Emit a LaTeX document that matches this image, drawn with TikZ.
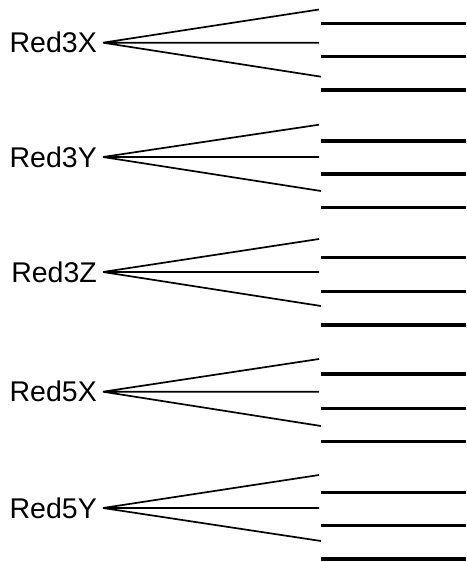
\documentclass[tikz,border=0pt]{standalone}
\usepackage{fontspec}
\setmainfont{Liberation Sans}
\usetikzlibrary{positioning}
\tikzset{
lbl/.style={inner sep=0pt, font=\fontsize{28.5}{34}\selectfont},
fan/.style={line width=1.7pt},
bar/.style={line width=3.4pt},
}

\begin{document}
\begin{tikzpicture}[x=1pt, y=-1pt]
    \useasboundingbox (0,0) rectangle (466,562);
    % Red3X
    \coordinate (ax) at (103,42.7);
    \node[lbl, left=6pt of ax] (red3x) {Red3X};
    \coordinate (ax1) at (319,9.5);
    \coordinate (ax2) at (319,42.7);
    \coordinate (ax3) at (321,76.7);
    \draw[fan] (ax) -- (ax1) (ax) -- (ax2) (ax) -- (ax3);
    \draw[bar] (321,23.3) -- (466,23.3) (321,56.7) -- (466,56.7) (321,90) -- (466,90);
    % Red3Y
    \coordinate (ay) at (103,157);
    \node[lbl, left=6pt of ay] (red3y) {Red3Y};
    \coordinate (ay1) at (319,124.7);
    \coordinate (ay2) at (319,157);
    \coordinate (ay3) at (321,191);
    \draw[fan] (ay) -- (ay1) (ay) -- (ay2) (ay) -- (ay3);
    \draw[bar] (321,141) -- (466,141) (321,174) -- (466,174) (321,207.7) -- (466,207.7);
    % Red3Z
    \coordinate (az) at (103,272);
    \node[lbl, left=6pt of az] (red3z) {Red3Z};
    \coordinate (az1) at (319,239);
    \coordinate (az2) at (319,272);
    \coordinate (az3) at (321,306);
    \draw[fan] (az) -- (az1) (az) -- (az2) (az) -- (az3);
    \draw[bar] (321,257.3) -- (466,257.3) (321,291.7) -- (466,291.7) (321,325) -- (466,325);
    % Red5X
    \coordinate (bx) at (103,391.7);
    \node[lbl, left=6pt of bx] (red5x) {Red5X};
    \coordinate (bx1) at (319,359);
    \coordinate (bx2) at (319,391.7);
    \coordinate (bx3) at (321,426);
    \draw[fan] (bx) -- (bx1) (bx) -- (bx2) (bx) -- (bx3);
    \draw[bar] (321,374) -- (466,374) (321,408.3) -- (466,408.3) (321,441.7) -- (466,441.7);
    % Red5Y
    \coordinate (by) at (103,508);
    \node[lbl, left=6pt of by] (red5y) {Red5Y};
    \coordinate (by1) at (319,475);
    \coordinate (by2) at (319,508);
    \coordinate (by3) at (321,541);
    \draw[fan] (by) -- (by1) (by) -- (by2) (by) -- (by3);
    \draw[bar] (321,492.3) -- (466,492.3) (321,525.7) -- (466,525.7) (321,559) -- (466,559);
\end{tikzpicture}
\end{document}
